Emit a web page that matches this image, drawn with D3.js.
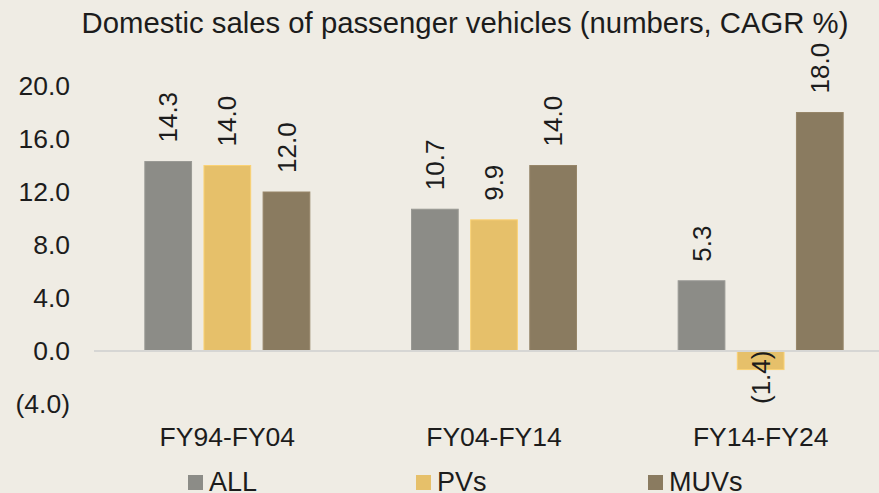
<!DOCTYPE html>
<html lang="en">
<head>
<meta charset="UTF-8">
<title>Domestic sales of passenger vehicles</title>
<style>
  body { margin: 0; background: #EFECE4; }
  svg { display: block; font-family: "Liberation Sans", Arial, sans-serif; }
</style>
</head>
<body>
<script src="https://d3js.org/d3.v7.min.js"></script>
<div id="chart"></div>
<script>
// data
var periods = ["FY94-FY04", "FY04-FY14", "FY14-FY24"];
var seriesNames = ["ALL", "PVs", "MUVs"];
var allValues = [14.3, 10.7, 5.3];
var pvValues = [14.0, 9.9, -1.4];
var muvValues = [12.0, 14.0, 18.0];
var yTicks = [-4, 0, 4, 8, 12, 16, 20];
var colors = ["#8C8C87", "#E6C06A", "#8A7B60"];

var width = 879, height = 493;

var svg = d3.select("#chart")
    .append("svg")
    .attr("width", width)
    .attr("height", height);

svg.append("rect")
    .attr("width", width).attr("height", height)
    .attr("fill", "#EFECE4");

// build rows from the arrays
var rows = periods.map(function(p, i) {
    return { period: p, values: [allValues[i], pvValues[i], muvValues[i]] };
});

var x0 = d3.scaleBand()
    .domain(periods)
    .range([94, 894]);

var x1 = d3.scaleBand()
    .domain(seriesNames)
    .range([0, 165])
    .paddingInner(0.21);

var y = d3.scaleLinear()
    .domain([-4, 20])
    .range([404, 86]);

function fmt(v) {
    return v < 0 ? "(" + d3.format(".1f")(-v) + ")" : d3.format(".1f")(v);
}

// title
svg.append("text")
    .attr("x", 465)
    .attr("y", 33)
    .attr("text-anchor", "middle")
    .style("font-size", "29.3px")
    .style("fill", "#1c1c1c")
    .text("Domestic sales of passenger vehicles (numbers, CAGR %)");

// y tick labels
svg.selectAll(".ytick")
    .data(yTicks)
    .enter()
    .append("text")
    .attr("x", 70)
    .attr("y", function(d) { return y(d); })
    .attr("dy", "0.35em")
    .attr("text-anchor", "end")
    .style("font-size", "26.5px")
    .style("fill", "#1c1c1c")
    .text(fmt);

// bars
var groups = svg.selectAll(".grp")
    .data(rows)
    .enter()
    .append("g")
    .attr("transform", function(d) {
        return "translate(" + (x0(d.period) + x0.bandwidth() / 2 - 82.5) + ",0)";
    });

var cells = groups.selectAll(".cell")
    .data(function(d) {
        return d.values.map(function(v, j) { return { name: seriesNames[j], v: v, j: j }; });
    })
    .enter();

cells.append("rect")
    .attr("x", function(d) { return x1(d.name); })
    .attr("y", function(d) { return y(Math.max(0, d.v)); })
    .attr("width", x1.bandwidth())
    .attr("height", function(d) { return Math.abs(y(d.v) - y(0)); })
    .attr("fill", function(d) { return colors[d.j]; })
    .attr("stroke", function(d) { return d3.color(colors[d.j]).brighter(0.25); })
    .attr("stroke-width", 1);

// zero line
svg.append("line")
    .attr("x1", 94).attr("x2", width)
    .attr("y1", y(0)).attr("y2", y(0))
    .attr("stroke", "#D6D6D4")
    .attr("stroke-width", 2);

// value labels (rotated)
cells.append("text")
    .attr("transform", function(d) {
        var cx = x1(d.name) + x1.bandwidth() / 2;
        return "translate(" + cx + "," + (y(d.v) - 19) + ") rotate(-90)";
    })
    .attr("dy", "0.35em")
    .attr("text-anchor", function(d) { return d.v < 0 ? "end" : "start"; })
    .style("font-size", "26px")
    .style("fill", "#1c1c1c")
    .text(function(d) { return fmt(d.v); });

// category labels
svg.selectAll(".cat")
    .data(periods)
    .enter()
    .append("text")
    .attr("x", function(d) { return x0(d) + x0.bandwidth() / 2; })
    .attr("y", 446)
    .attr("text-anchor", "middle")
    .style("font-size", "26.5px")
    .style("fill", "#1c1c1c")
    .text(function(d) { return d; });

// legend
var legendX = [188, 416, 648];
var legend = svg.selectAll(".leg")
    .data(seriesNames)
    .enter()
    .append("g")
    .attr("transform", function(d, i) { return "translate(" + legendX[i] + ",475)"; });

legend.append("rect")
    .attr("width", 15).attr("height", 15)
    .attr("fill", function(d, i) { return colors[i]; });

legend.append("text")
    .attr("x", 21)
    .attr("y", 16)
    .style("font-size", "27px")
    .style("fill", "#1c1c1c")
    .text(function(d) { return d; });
</script>
</body>
</html>
